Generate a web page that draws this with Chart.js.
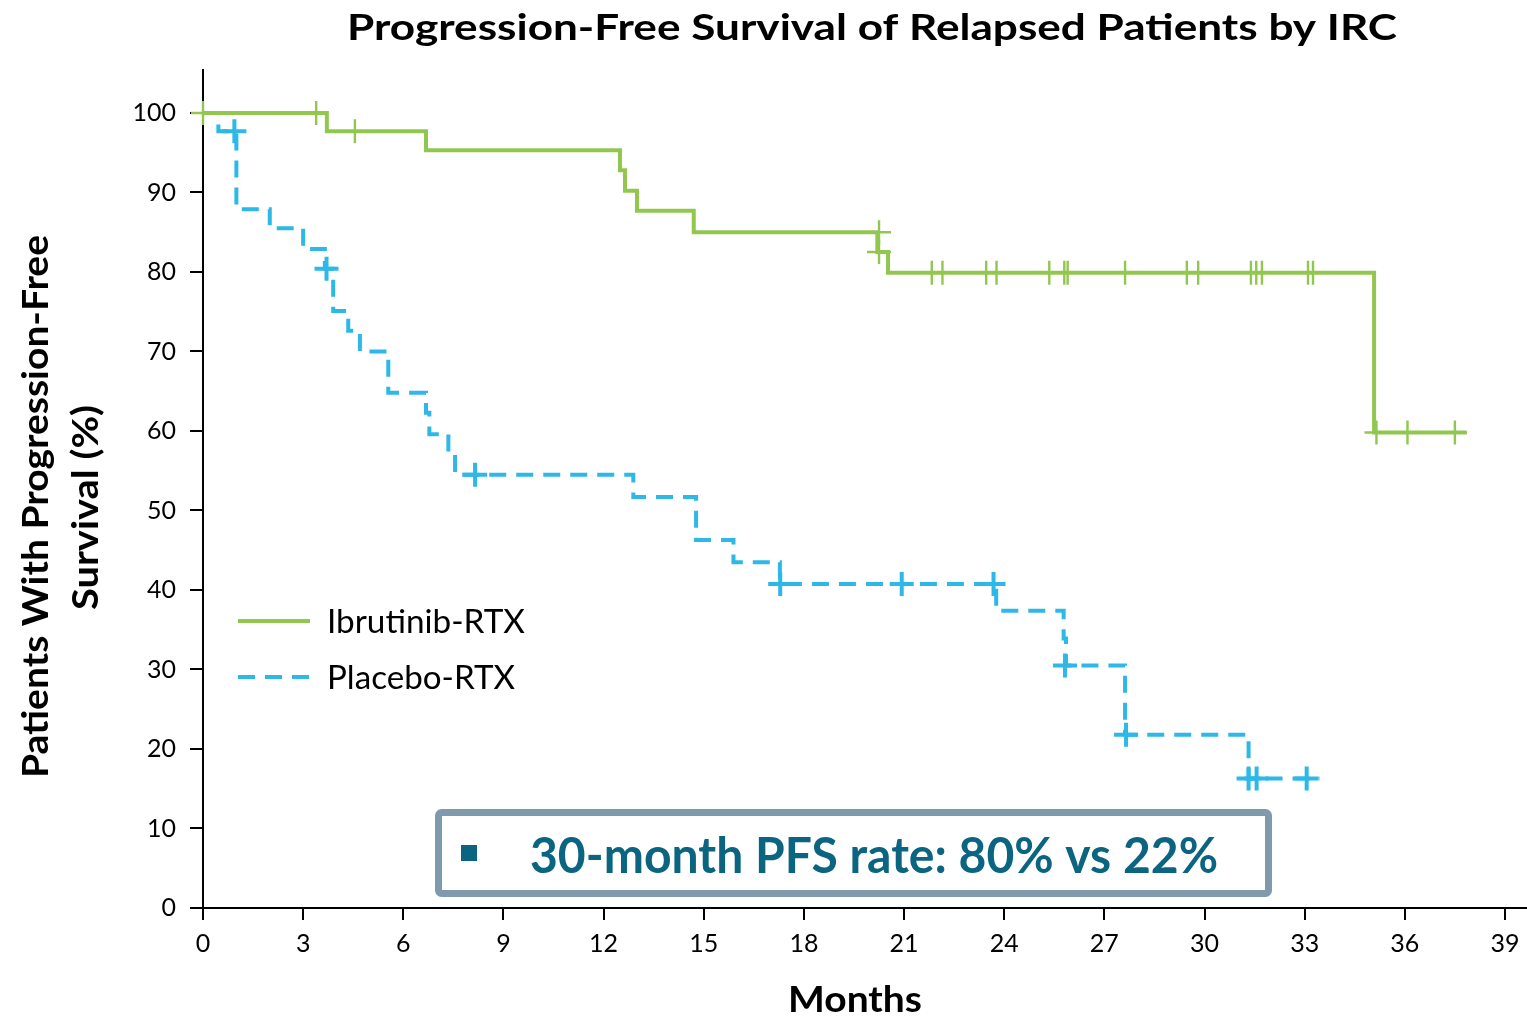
<!DOCTYPE html>
<html lang="en">
<head>
<meta charset="UTF-8">
<title>Progression-Free Survival of Relapsed Patients by IRC</title>
<script src="https://cdn.jsdelivr.net/npm/chart.js@4.4.1/dist/chart.umd.min.js"></script>
<style>
    html, body { margin: 0; padding: 0; background: #ffffff; }
    #chartWrap { position: relative; width: 1527px; height: 1018px; }
</style>
</head>
<body>
<div id="chartWrap"><canvas id="pfsChart" width="1527" height="1018"></canvas></div>
<script>
// Kaplan-Meier steps (months, % progression-free)
const ibrutinibTimes    = [0, 3.71, 6.68, 12.49, 12.64, 13.0, 14.7, 20.2, 20.52, 35.08, 37.85];
const ibrutinibSurvival = [100, 97.7, 95.3, 92.8, 90.2, 87.7, 85.0, 82.5, 79.9, 59.8, 59.8];

const placeboTimes    = [0, 0.46, 1.0, 2.0, 3.0, 3.65, 3.9, 4.35, 4.7, 5.55, 6.68, 6.78, 7.35, 7.55,
                         12.89, 14.77, 15.89, 17.28, 23.76, 25.78, 25.85, 27.62, 31.32, 33.46];
const placeboSurvival = [100, 97.7, 87.9, 85.5, 82.9, 80.4, 75.1, 72.6, 70.0, 64.8, 62.3, 59.6, 57.1, 54.5,
                         51.7, 46.3, 43.5, 40.75, 37.4, 33.9, 30.5, 21.8, 16.3, 16.3];

// censored patients (tick marks)
const ibrutinibCensorTimes    = [0, 3.39, 4.55, 20.25, 20.25, 21.83, 22.15, 23.46, 23.77, 25.35, 25.8, 25.9,
                                 27.62, 29.47, 29.81, 31.39, 31.55, 31.72, 33.1, 33.25, 35.15, 36.08, 37.5];
const ibrutinibCensorSurvival = [100, 100, 97.7, 85.0, 82.5, 79.9, 79.9, 79.9, 79.9, 79.9, 79.9, 79.9,
                                 79.9, 79.9, 79.9, 79.9, 79.9, 79.9, 79.9, 79.9, 59.8, 59.8, 59.8];

const placeboCensorTimes    = [0.94, 3.7, 8.15, 17.29, 20.93, 23.68, 25.82, 27.65, 31.32, 31.56, 33.06];
const placeboCensorSurvival = [97.7, 80.4, 54.5, 40.75, 40.75, 40.75, 30.5, 21.8, 16.3, 16.3, 16.3];

const seriesLabels = ['Ibrutinib-RTX', 'Placebo-RTX'];

const GREEN = '#92C74F';
const BLUE = '#2DB8E8';
const FONT = 'Lato, "Open Sans", sans-serif';

const toPoints = (xs, ys) => xs.map((x, i) => ({ x: x, y: ys[i] }));

// text squeezed/stretched to the width it has in the original slide
function fitText(ctx, text, x, y, width, font, color, align) {
    ctx.save();
    ctx.font = font;
    ctx.fillStyle = color;
    ctx.textBaseline = 'alphabetic';
    ctx.textAlign = 'left';
    const w = ctx.measureText(text).width;
    const k = width / w;
    let left = x;
    if (align === 'center') left = x - width / 2;
    ctx.translate(left, y);
    ctx.scale(k, 1);
    ctx.fillText(text, 0, 0);
    ctx.restore();
}

const decorPlugin = {
    id: 'decor',
    afterDraw(chart) {
        const ctx = chart.ctx;

        fitText(ctx, 'Progression-Free Survival of Relapsed Patients by IRC', 872, 40, 1050, 'bold 37px ' + FONT, '#000', 'center');
        fitText(ctx, 'Months', 855, 1012, 134, 'bold 36px ' + FONT, '#000', 'center');

        // y axis title, two lines, rotated
        ctx.save();
        ctx.translate(48, 506.5);
        ctx.rotate(-Math.PI / 2);
        fitText(ctx, 'Patients With Progression-Free', 0, 0, 543, 'bold 36px ' + FONT, '#000', 'center');
        ctx.restore();
        ctx.save();
        ctx.translate(98, 507.5);
        ctx.rotate(-Math.PI / 2);
        fitText(ctx, 'Survival (%)', 0, 0, 205, 'bold 36px ' + FONT, '#000', 'center');
        ctx.restore();

        // legend
        const rows = [
            { label: seriesLabels[0], color: GREEN, dash: [], y: 621, width: 198 },
            { label: seriesLabels[1], color: BLUE, dash: [17, 10], y: 677, width: 188 }
        ];
        rows.forEach(r => {
            ctx.save();
            ctx.strokeStyle = r.color;
            ctx.lineWidth = 4;
            ctx.setLineDash(r.dash);
            ctx.beginPath();
            ctx.moveTo(238, r.y);
            ctx.lineTo(310, r.y);
            ctx.stroke();
            ctx.restore();
            fitText(ctx, r.label, 327, r.y + 12, r.width, '32px ' + FONT, '#000', 'left');
        });

        // call-out box
        ctx.save();
        ctx.fillStyle = '#ffffff';
        ctx.strokeStyle = '#7F9AAC';
        ctx.lineWidth = 7;
        ctx.beginPath();
        ctx.roundRect(438.5, 812.5, 830, 81, 3);
        ctx.fill();
        ctx.stroke();
        ctx.fillStyle = '#0B6580';
        ctx.fillRect(461, 845, 16, 16);
        ctx.restore();
        fitText(ctx, '30-month PFS rate: 80% vs 22%', 530, 873, 688, 'bold 50px ' + FONT, '#0B6580', 'left');
    }
};

new Chart(document.getElementById('pfsChart'), {
    type: 'line',
    data: {
        datasets: [
            {
                label: 'Ibrutinib-RTX censored',
                type: 'scatter',
                data: toPoints(ibrutinibCensorTimes, ibrutinibCensorSurvival),
                pointStyle: 'cross',
                pointRadius: 12,
                pointBorderWidth: 2.4,
                pointBorderColor: GREEN,
                showLine: false,
                clip: false,
                order: 0
            },
            {
                label: seriesLabels[0],
                data: toPoints(ibrutinibTimes, ibrutinibSurvival),
                stepped: 'before',
                borderColor: GREEN,
                borderWidth: 4,
                pointRadius: 0,
                fill: false,
                clip: false,
                order: 1
            },
            {
                label: 'Placebo-RTX censored',
                type: 'scatter',
                data: toPoints(placeboCensorTimes, placeboCensorSurvival),
                pointStyle: 'cross',
                pointRadius: 12,
                pointBorderWidth: 4,
                pointBorderColor: BLUE,
                showLine: false,
                clip: false,
                order: 2
            },
            {
                label: seriesLabels[1],
                data: toPoints(placeboTimes, placeboSurvival),
                stepped: 'before',
                borderColor: BLUE,
                borderWidth: 4,
                borderDash: [17, 10],
                pointRadius: 0,
                fill: false,
                clip: false,
                order: 3
            }
        ]
    },
    options: {
        responsive: false,
        animation: false,
        events: [],
        devicePixelRatio: 1,
        layout: { autoPadding: false, padding: { top: 70, left: 0, right: 0, bottom: 0 } },
        plugins: {
            legend: { display: false },
            title: { display: false },
            tooltip: { enabled: false }
        },
        scales: {
            x: {
                type: 'linear',
                min: 0,
                max: 39.66,
                ticks: {
                    stepSize: 3,
                    includeBounds: false,
                    autoSkip: false,
                    maxRotation: 0,
                    padding: 9,
                    color: '#000',
                    font: { family: FONT, size: 25 }
                },
                grid: { drawOnChartArea: false, drawTicks: true, tickLength: 12, color: '#000', lineWidth: 2 },
                border: { color: '#000', width: 2 },
                afterFit: s => {
                    s.height = 110;
                    s.paddingLeft = 0;
                    s.paddingRight = 0;
                }
            },
            y: {
                min: 0,
                max: 105.4,
                ticks: {
                    stepSize: 10,
                    includeBounds: false,
                    padding: 14,
                    color: '#000',
                    font: { family: FONT, size: 25 }
                },
                grid: { drawOnChartArea: false, drawTicks: true, tickLength: 13, color: '#000', lineWidth: 2 },
                border: { color: '#000', width: 2 },
                afterFit: s => {
                    s.width = 203;
                    s.paddingTop = 0;
                    s.paddingBottom = 0;
                }
            }
        }
    },
    plugins: [decorPlugin]
});
</script>
</body>
</html>
